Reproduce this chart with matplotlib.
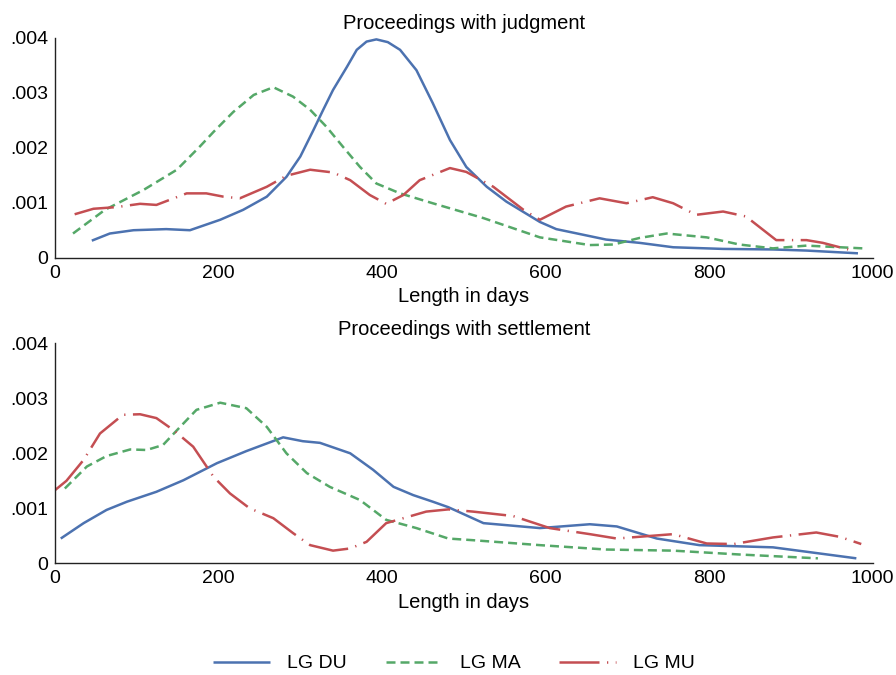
import matplotlib
matplotlib.use("Agg")
import matplotlib.pyplot as plt
from matplotlib.ticker import FuncFormatter

plt.rcParams['font.family'] = ['Liberation Sans', 'DejaVu Sans']

# ---- Data: Proceedings with judgment ----
j_du_x = [45, 67, 96, 136, 165, 202, 230, 259, 283, 300, 316, 328, 340, 357, 369, 381, 393, 407, 422, 442, 462, 483, 503, 528, 552, 593, 613, 674, 715, 756, 817, 878, 919, 982]
j_du_y = [0.00031, 0.00044, 0.00050, 0.00052, 0.00050, 0.00069, 0.00087, 0.00111, 0.00147, 0.00184, 0.00232, 0.00269, 0.00305, 0.00347, 0.00378, 0.00393, 0.00397, 0.00392, 0.00378, 0.00341, 0.00281, 0.00214, 0.00165, 0.00129, 0.00102, 0.00065, 0.00052, 0.00033, 0.00027, 0.00019, 0.00016, 0.00015, 0.00013, 0.00008]

j_ma_x = [22, 61, 108, 149, 177, 194, 218, 243, 267, 291, 312, 332, 352, 373, 393, 422, 462, 524, 593, 654, 683, 715, 748, 797, 837, 878, 919, 988]
j_ma_y = [0.00044, 0.00087, 0.00123, 0.00160, 0.00202, 0.00229, 0.00265, 0.00296, 0.00310, 0.00293, 0.00269, 0.00238, 0.00202, 0.00165, 0.00135, 0.00117, 0.00099, 0.00072, 0.00037, 0.00023, 0.00024, 0.00036, 0.00044, 0.00037, 0.00024, 0.00017, 0.00022, 0.00017]

j_mu_x = [24, 47, 75, 104, 124, 161, 185, 206, 226, 259, 283, 312, 340, 361, 385, 405, 426, 446, 483, 503, 536, 573, 593, 625, 666, 699, 731, 756, 784, 817, 845, 882, 919, 939, 970]
j_mu_y = [0.00079, 0.00089, 0.00092, 0.00098, 0.00096, 0.00117, 0.00117, 0.00111, 0.00108, 0.00129, 0.00149, 0.00160, 0.00155, 0.00141, 0.00114, 0.00098, 0.00114, 0.00141, 0.00163, 0.00156, 0.00129, 0.00087, 0.00069, 0.00093, 0.00108, 0.00099, 0.00110, 0.00099, 0.00078, 0.00084, 0.00075, 0.00032, 0.00032, 0.00027, 0.00015]

# ---- Data: Proceedings with settlement ----
s_du_x = [7, 35, 63, 88, 124, 157, 198, 234, 279, 303, 324, 361, 389, 414, 438, 462, 481, 524, 593, 654, 687, 736, 788, 878, 919, 980]
s_du_y = [0.00045, 0.00073, 0.00097, 0.00112, 0.00130, 0.00151, 0.00182, 0.00204, 0.00229, 0.00222, 0.00219, 0.00200, 0.00170, 0.00139, 0.00124, 0.00112, 0.00102, 0.00073, 0.00064, 0.00071, 0.00067, 0.00045, 0.00033, 0.00029, 0.00021, 0.00009]

s_ma_x = [12, 39, 63, 92, 112, 132, 153, 173, 202, 234, 259, 283, 308, 336, 373, 405, 442, 481, 511, 593, 674, 756, 837, 933]
s_ma_y = [0.00136, 0.00176, 0.00195, 0.00207, 0.00206, 0.00215, 0.00248, 0.00279, 0.00292, 0.00282, 0.00248, 0.00200, 0.00164, 0.00139, 0.00115, 0.00079, 0.00064, 0.00045, 0.00042, 0.00033, 0.00025, 0.00023, 0.00016, 0.00009]

s_mu_x = [0, 14, 35, 55, 83, 104, 124, 145, 169, 194, 214, 238, 267, 291, 312, 340, 361, 381, 405, 454, 481, 511, 560, 605, 654, 687, 756, 797, 830, 878, 931, 960, 986]
s_mu_y = [0.00133, 0.00150, 0.00188, 0.00236, 0.00270, 0.00271, 0.00264, 0.00242, 0.00212, 0.00157, 0.00127, 0.00100, 0.00082, 0.00055, 0.00033, 0.00023, 0.00027, 0.00039, 0.00073, 0.00094, 0.00098, 0.00094, 0.00086, 0.00064, 0.00053, 0.00045, 0.00053, 0.00036, 0.00035, 0.00047, 0.00056, 0.00048, 0.00035]

titles = ["Proceedings with judgment", "Proceedings with settlement"]
labels = ["LG DU", "LG MA", "LG MU"]
xticks = [0, 200, 400, 600, 800, 1000]
yticks = [0, 0.001, 0.002, 0.003, 0.004]

colors = ["#4C72B0", "#55A868", "#C44E52"]
styles = ["-", (0, (3.6, 2.0)), (0, (16, 3, 0.5, 3))]

fig = plt.figure(figsize=(8.96, 6.75), dpi=100)
ax1 = fig.add_axes([0.0614, 0.6182, 0.9126, 0.3259])
ax2 = fig.add_axes([0.0614, 0.1655, 0.9126, 0.3259])

def yfmt(v, pos):
    if abs(v) < 1e-12:
        return "0"
    return ("%.3f" % v)[1:]

panels = [
    (ax1, [(j_du_x, j_du_y), (j_ma_x, j_ma_y), (j_mu_x, j_mu_y)]),
    (ax2, [(s_du_x, s_du_y), (s_ma_x, s_ma_y), (s_mu_x, s_mu_y)]),
]
handles = []
for i, (ax, series) in enumerate(panels):
    for k, (xs, ys) in enumerate(series):
        ln, = ax.plot(xs, ys, color=colors[k], linestyle=styles[k], lw=1.8,
                      solid_capstyle='butt', dash_capstyle='butt',
                      solid_joinstyle='round', label=labels[k])
        if i == 0:
            handles.append(ln)
    ax.set_xlim(0, 1000)
    ax.set_ylim(0, 0.004)
    ax.set_xticks(xticks)
    ax.set_yticks(yticks)
    ax.yaxis.set_major_formatter(FuncFormatter(yfmt))
    ax.tick_params(length=0, labelsize=14, pad=5)
    ax.spines['top'].set_visible(False)
    ax.spines['right'].set_visible(False)
    for s in ['left', 'bottom']:
        ax.spines[s].set_color('#222222')
        ax.spines[s].set_linewidth(1.0)
    ax.set_title(titles[i], fontsize=14.5, pad=6)
    ax.set_xlabel("Length in days", fontsize=14.5, labelpad=4)

fig.legend(handles, labels, loc='center', bbox_to_anchor=(0.507, 0.017), ncol=3,
           frameon=False, fontsize=14, handlelength=2.9, columnspacing=2.0,
           handletextpad=0.9)

fig.savefig("out.png", dpi=100)
